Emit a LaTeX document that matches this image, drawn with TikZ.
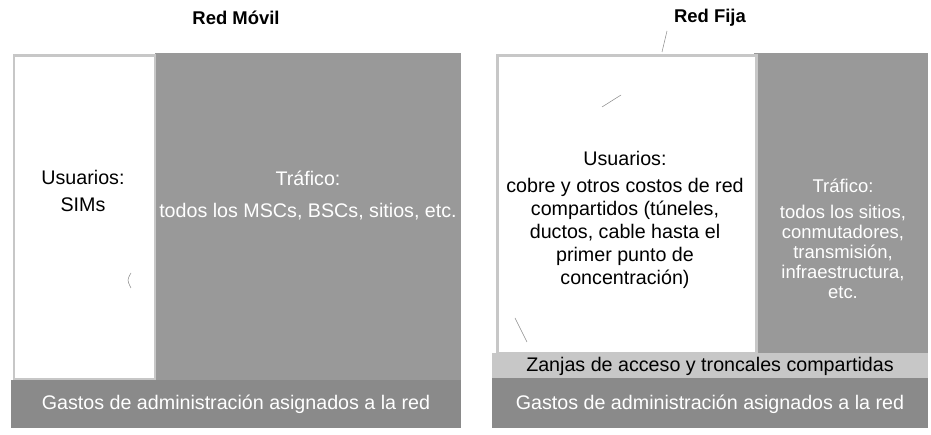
\documentclass[tikz,border=0pt]{standalone}
\usepackage{fontspec}
\setmainfont{Liberation Sans}
\usetikzlibrary{positioning}

\begin{document}
\begin{tikzpicture}[x=0.02cm, y=-0.02cm]

\tikzstyle{title}=[font=\bfseries\fontsize{10.5}{12}\selectfont]
\tikzstyle{region}=[draw=none, inner sep=0pt, anchor=north west]
\tikzstyle{traffic}=[region, fill=black!40]
\tikzstyle{users}=[region, fill=white, draw=black!22, line width=0.06cm]
\tikzstyle{admin}=[region, fill=black!46]
\tikzstyle{trench}=[region, fill=black!22]
\tikzstyle{txt}=[align=center, font=\fontsize{11.2}{13.2}\selectfont]
\tikzstyle{wtxt}=[txt, text=white]
\tikzstyle{scan}=[black!45, line width=0.3pt]

\useasboundingbox (0,0) rectangle (931,435);

% Red Movil
\node[title] (movtitle) at (236,18) {Red Móvil};

\node[traffic, minimum width=306*0.02cm, minimum height=327*0.02cm] (movtraf) at (155,53) {};
\node[users, minimum width=141*0.02cm, minimum height=324*0.02cm] (movusr) at (12.5,54.5) {};
\node[admin, minimum width=450*0.02cm, minimum height=48*0.02cm] (movadm) at (11,380) {};

\node[txt] (movusrt) at (83,191) {Usuarios:\\[2pt] SIMs};
\node[wtxt] (movtraft) at (308,196) {Tráfico:\\[5pt] todos los MSCs, BSCs, sitios, etc.};
\node[wtxt] (movadmt) at (236,404) {Gastos de administración asignados a la red};

% Red Fija
\node[title] (fijtitle) at (710,18) {Red Fija};

\node[traffic, minimum width=174*0.02cm, minimum height=302*0.02cm] (fijtraf) at (754,53) {};
\node[users, minimum width=259*0.02cm, minimum height=298*0.02cm] (fijusr) at (495.5,54.5) {};
\node[trench, minimum width=436*0.02cm, minimum height=25*0.02cm] (fijtrench) at (492,353) {};
\node[admin, minimum width=436*0.02cm, minimum height=50*0.02cm] (fijadm) at (492,378) {};

\node[txt] (fijusrt) at (625,220) {Usuarios:\\[2pt] cobre y otros costos de red\\ compartidos (túneles,\\ ductos, cable hasta el\\ primer punto de\\ concentración)};
\node[wtxt, font=\fontsize{10.5}{11.5}\selectfont] (fijtraft) at (843,239) {Tráfico:\\[3pt] todos los sitios,\\ conmutadores,\\ transmisión,\\ infraestructura,\\ etc.};
\node[txt] (fijtrencht) at (710,366) {Zanjas de acceso y troncales compartidas};
\node[wtxt] (fijadmt) at (710,404) {Gastos de administración asignados a la red};

%% marks from the scan
\draw[scan] (662,52) -- (667,31);
\draw[scan] (602,107) -- (621,95);
\draw[scan] (515,318) -- (527,342);
\draw[scan] (131,273) .. controls (127,280) .. (131,288);

\end{tikzpicture}
\end{document}
